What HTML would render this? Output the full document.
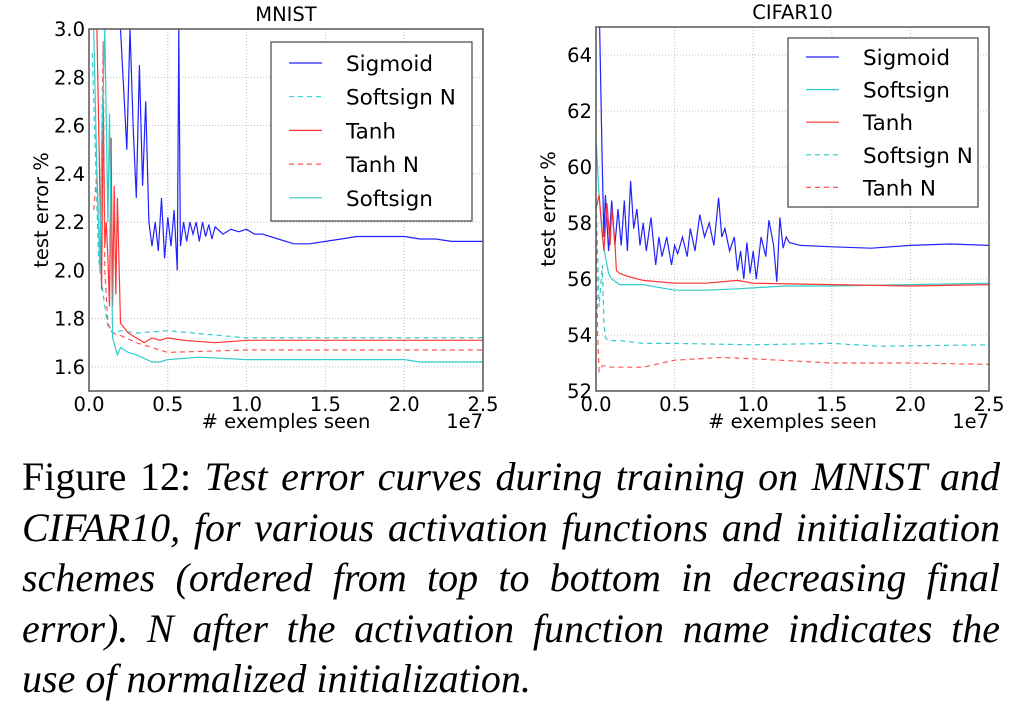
<!DOCTYPE html>
<html><head><meta charset="utf-8"><style>
body{margin:0;background:#fff;width:1016px;height:702px;overflow:hidden;position:relative}
svg text{font-family:"DejaVu Sans","Liberation Sans",sans-serif;fill:#000}
.cap{position:absolute;left:22px;width:978px;font-family:"Liberation Serif",serif;font-size:40px;line-height:50.5px;top:452px;color:#000}
.cap span{display:block;text-align:justify;text-align-last:justify;white-space:nowrap}
.cap span.last{text-align-last:left}
</style></head><body>
<svg id="svg" width="1016" height="450" style="position:absolute;left:0;top:0"></svg>
<div class="cap"><span>Figure 12: <i>Test error curves during training on MNIST and</i></span><span><i>CIFAR10, for various activation functions and initialization</i></span><span><i>schemes (ordered from top to bottom in decreasing final</i></span><span><i>error). N after the activation function name indicates the</i></span><span class="last"><i>use of normalized initialization.</i></span></div>
<script>
// ---- MNIST data (x in units of 1e7) ----
const mSigX=[0.2,0.22,0.24,0.26,0.28,0.3,0.32,0.34,0.36,0.38,0.4,0.42,0.44,0.46,0.48,0.5,0.52,0.54,0.56,0.57,0.58,0.6,0.62,0.64,0.66,0.68,0.7,0.72,0.74,0.76,0.78,0.8,0.85,0.9,0.95,1.0,1.05,1.1,1.2,1.3,1.4,1.5,1.6,1.7,1.8,2.0,2.1,2.2,2.3,2.5];
const mSigY=[3.0,2.75,2.5,3.0,2.6,2.3,2.85,2.35,2.7,2.2,2.1,2.2,2.08,2.3,2.05,2.22,2.1,2.25,2.0,3.0,2.1,2.2,2.12,2.2,2.15,2.2,2.12,2.2,2.14,2.19,2.13,2.18,2.15,2.17,2.16,2.17,2.15,2.15,2.13,2.11,2.11,2.12,2.13,2.14,2.14,2.14,2.13,2.13,2.12,2.12];
const mTanhX=[0.05,0.07,0.08,0.09,0.1,0.11,0.12,0.13,0.14,0.15,0.16,0.17,0.18,0.2,0.25,0.3,0.35,0.4,0.45,0.5,0.6,0.8,1.0,1.5,2.0,2.5];
const mTanhY=[3.0,2.3,1.92,2.7,2.1,2.2,2.05,1.85,2.55,1.85,2.35,1.9,2.3,1.78,1.74,1.72,1.7,1.72,1.71,1.72,1.71,1.7,1.71,1.71,1.71,1.71];
const mTanhNX=[0.03,0.05,0.07,0.09,0.1,0.12,0.15,0.2,0.3,0.45,0.5,1.0,2.0,2.5];
const mTanhNY=[2.25,2.4,2.05,2.95,2.0,1.78,1.74,1.73,1.70,1.67,1.66,1.67,1.67,1.67];
const mSoftNX=[0.02,0.04,0.06,0.08,0.1,0.12,0.15,0.2,0.3,0.5,1.0,1.5,2.0,2.5];
const mSoftNY=[2.9,2.5,2.05,1.95,1.85,1.77,1.74,1.75,1.74,1.75,1.72,1.72,1.72,1.72];
const mSoftX=[0.03,0.05,0.07,0.08,0.1,0.12,0.13,0.15,0.18,0.2,0.25,0.3,0.4,0.45,0.5,0.7,1.0,1.5,2.0,2.1,2.5];
const mSoftY=[3.0,2.4,2.0,2.5,3.0,2.2,2.65,1.72,1.65,1.68,1.66,1.65,1.62,1.62,1.63,1.64,1.63,1.63,1.63,1.62,1.62];
// ---- CIFAR10 data ----
const cSigX=[0.02,0.04,0.05,0.06,0.08,0.1,0.12,0.14,0.16,0.18,0.2,0.22,0.24,0.26,0.28,0.3,0.32,0.35,0.38,0.4,0.42,0.45,0.48,0.5,0.52,0.55,0.58,0.6,0.63,0.66,0.69,0.72,0.75,0.78,0.8,0.82,0.85,0.88,0.9,0.92,0.94,0.96,0.98,1.0,1.02,1.05,1.08,1.1,1.13,1.15,1.17,1.19,1.21,1.23,1.3,1.5,1.75,2.0,2.25,2.5];
const cSigY=[66,60,57.5,59,57,58.8,57.2,58.5,57.2,58.8,57,59.5,57.8,58.5,57.2,58,57,58.2,56.5,57.5,56.8,57.5,56.5,57.2,56.9,57.5,56.8,57.8,57,58.3,57.5,58,57.2,58.9,57.5,57.8,57,57.5,56.3,57,56,57.3,56.2,57,56,57.5,56.8,58.1,57.2,55.9,58.2,57.1,57.5,57.3,57.2,57.15,57.1,57.2,57.25,57.2];
const cTanhX=[0.0,0.02,0.05,0.07,0.09,0.1,0.12,0.13,0.15,0.2,0.3,0.5,0.7,0.9,1.0,1.5,2.0,2.5];
const cTanhY=[58.5,59,57,58.7,57.2,58.5,57.3,56.3,56.2,56.1,55.95,55.85,55.85,55.95,55.85,55.8,55.75,55.8];
const cSoftX=[0.0,0.02,0.04,0.06,0.08,0.1,0.15,0.2,0.3,0.5,0.7,0.9,1.2,1.5,2.0,2.5];
const cSoftY=[61,59,57.5,56.8,56.2,56,55.8,55.8,55.8,55.6,55.6,55.65,55.75,55.75,55.8,55.85];
const cSoftNX=[0.0,0.02,0.04,0.05,0.06,0.08,0.15,0.3,0.5,1.0,1.5,1.8,2.5];
const cSoftNY=[59,55,56.5,54.5,53.9,53.8,53.8,53.7,53.7,53.65,53.7,53.6,53.65];
const cTanhNX=[0.0,0.01,0.02,0.04,0.06,0.1,0.3,0.5,0.8,1.0,1.5,2.0,2.5];
const cTanhNY=[58,54,52.7,52.9,52.9,52.85,52.85,53.1,53.2,53.15,53,53,52.95];
const xTicks=[0,0.5,1.0,1.5,2.0,2.5];
const xTickLabels=["0.0","0.5","1.0","1.5","2.0","2.5"];
const mYTicks=[1.6,1.8,2.0,2.2,2.4,2.6,2.8,3.0];
const mYTickLabels=["1.6","1.8","2.0","2.2","2.4","2.6","2.8","3.0"];
const cYTicks=[52,54,56,58,60,62,64];
const cYTickLabels=["52","54","56","58","60","62","64"];
const mLegend=["Sigmoid","Softsign N","Tanh","Tanh N","Softsign"];
const cLegend=["Sigmoid","Softsign","Tanh","Softsign N","Tanh N"];

const NS="http://www.w3.org/2000/svg";
const svg=document.getElementById('svg');
function mk(t,a,p){const e=document.createElementNS(NS,t);for(const k in a)e.setAttribute(k,a[k]);(p||svg).appendChild(e);return e;}
const BLUE="#2222ff",CYAN="#33cccc",RED="#ff3333",RED2="#ff5555";
const FS=19.5;

function chart(o){
  const g=mk('g',{});
  
  
  const X=v=>o.l+(v-0)/(2.5)*(o.r-o.l);
  const Y=v=>o.b-(v-o.ymin)/(o.ymax-o.ymin)*(o.b-o.t);
  const cid='clip'+o.name;
  const cp=mk('clipPath',{id:cid},g);mk('rect',{x:o.l,y:o.t,width:o.r-o.l,height:o.b-o.t},cp);
  xTicks.forEach((v,i)=>{
    const gl=mk('line',{x1:X(v),x2:X(v),y1:o.t,y2:o.b,stroke:'#bbb','stroke-dasharray':'1,2','stroke-width':1},g);
    
    const tx=mk('text',{x:X(v),y:o.b+20,'text-anchor':'middle','font-size':FS},g);tx.textContent=xTickLabels[i];
    
  });
  o.yt.forEach((v,i)=>{
    const gl=mk('line',{x1:o.l,x2:o.r,y1:Y(v),y2:Y(v),stroke:'#bbb','stroke-dasharray':'1,2','stroke-width':1},g);
    
    const tx=mk('text',{x:o.l-4,y:Y(v)+7,'text-anchor':'end','font-size':FS},g);tx.textContent=o.ytl[i];
    
  });
  const cg=mk('g',{'clip-path':'url(#'+cid+')'},g);
  o.series.forEach(s=>{
    const d=s.x.map((v,i)=>(i?'L':'M')+X(v).toFixed(1)+','+Y(s.y[i]).toFixed(1)).join('');
    const p=mk('path',{d:d,fill:'none',stroke:s.c,'stroke-width':1.2,'stroke-dasharray':s.dash?'5,4':'none'},cg);
    
    
  });
  const fr=mk('rect',{x:o.l,y:o.t,width:o.r-o.l,height:o.b-o.t,fill:'none',stroke:'#555','stroke-width':1.5},g);
  
  const ti=mk('text',{x:(o.l+o.r)/2,y:o.t-8,'text-anchor':'middle','font-size':FS},g);ti.textContent=o.title;
  
  const xl=mk('text',{x:(o.l+o.r)/2,y:o.b+37,'text-anchor':'middle','font-size':FS},g);xl.textContent='# exemples seen';
  
  const ex=mk('text',{x:o.r,y:o.b+37,'text-anchor':'end','font-size':FS},g);ex.textContent='1e7';
  
  const yl=mk('text',{x:0,y:0,'text-anchor':'middle','font-size':FS,transform:`translate(${o.l-41},${(o.t+o.b)/2}) rotate(-90)`},g);yl.textContent='test error %';
  
  const L=o.leg;
  const lb=mk('rect',{x:L.x,y:L.y,width:L.w,height:L.h,fill:'#fff',stroke:'#444','stroke-width':1.2},g);
  
  o.legNames.forEach((n,i)=>{
    const s=o.series.find(q=>q.n===n);
    const yy=L.y0+i*L.dy;
    const ln=mk('line',{x1:L.x+18,x2:L.x+51,y1:yy,y2:yy,stroke:s.c,'stroke-width':1.2,'stroke-dasharray':s.dash?'5,4':'none'},g);
    
    const t=mk('text',{x:L.x+75,y:yy+8,'font-size':21.5},g);t.textContent=n;
    
  });
}
chart({name:'mnist-chart',title:'MNIST',l:89,r:483,t:29,b:391,ymin:1.5,ymax:3.0,yt:mYTicks,ytl:mYTickLabels,
  series:[{n:'Sigmoid',x:mSigX,y:mSigY,c:BLUE},{n:'Softsign N',x:mSoftNX,y:mSoftNY,c:CYAN,dash:1},{n:'Tanh',x:mTanhX,y:mTanhY,c:RED},{n:'Tanh N',x:mTanhNX,y:mTanhNY,c:RED2,dash:1},{n:'Softsign',x:mSoftX,y:mSoftY,c:CYAN}],
  legNames:mLegend,leg:{x:271,y:42,w:201,h:179,y0:63,dy:33.7}});
chart({name:'cifar10-chart',title:'CIFAR10',l:596,r:989,t:27,b:391,ymin:52,ymax:65,yt:cYTicks,ytl:cYTickLabels,
  series:[{n:'Sigmoid',x:cSigX,y:cSigY,c:BLUE},{n:'Softsign',x:cSoftX,y:cSoftY,c:CYAN},{n:'Tanh',x:cTanhX,y:cTanhY,c:RED},{n:'Softsign N',x:cSoftNX,y:cSoftNY,c:CYAN,dash:1},{n:'Tanh N',x:cTanhNX,y:cTanhNY,c:RED2,dash:1}],
  legNames:cLegend,leg:{x:788,y:38,w:190,h:169,y0:57,dy:32.6}});
</script>
</body></html>
